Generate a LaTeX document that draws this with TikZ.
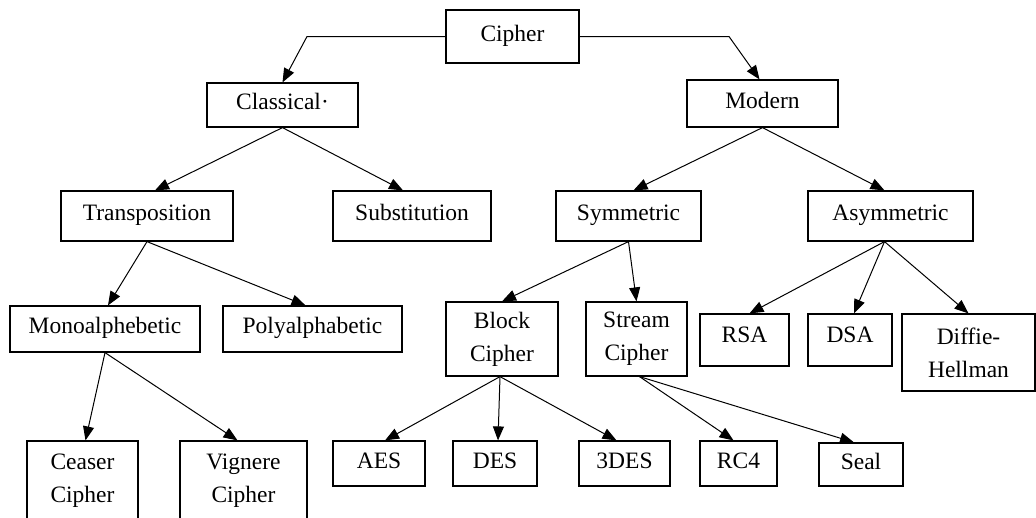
\documentclass[tikz,border=0pt]{standalone}
\usepackage{fontspec}
\setmainfont{Liberation Serif}
\usepackage{tikz}
\usetikzlibrary{arrows.meta,positioning}
\tikzset{
  cbox/.style={draw,rectangle,line width=1.2pt,inner sep=0pt,align=center,font=\fontsize{23.5}{33}\selectfont},
  oneline/.style={text height=15pt,text depth=6pt},
  sz/.style 2 args={minimum width=#1pt,minimum height=#2pt},
  link/.style={line width=1pt,-{Triangle[length=14pt,width=11pt]}}
}

\begin{document}
\begin{tikzpicture}[x=1pt,y=-1pt]
\useasboundingbox (0,0) rectangle (1036,517);
% top levels
\node[cbox,oneline,sz={133}{53}] (cipher) at (512.5,36.5) {Cipher};
\node[cbox,oneline,sz={151}{44}] (classical) at (282.5,105) {Classical·};
\node[cbox,oneline,sz={151}{47}] (modern) at (762.5,103.5) {Modern};
\node[cbox,oneline,sz={172}{50}] (transp) at (147,216) {Transposition};
\node[cbox,oneline,sz={158}{50}] (subst) at (412,216) {Substitution};
\node[cbox,oneline,sz={145}{50}] (sym) at (628.5,216) {Symmetric};
\node[cbox,oneline,sz={165}{50}] (asym) at (890.5,216) {Asymmetric};
% third level
\node[cbox,oneline,sz={190}{46}] (mono) at (105,329) {Monoalphebetic};
\node[cbox,oneline,sz={179}{46}] (poly) at (312.5,329) {Polyalphabetic};
\node[cbox,sz={112}{74}] (block) at (502,339) {Block\\Cipher};
\node[cbox,sz={101}{74}] (stream) at (636.5,339) {Stream\\Cipher};
\node[cbox,oneline,text depth=10pt,sz={89}{52}] (rsa) at (744.5,340) {RSA};
\node[cbox,oneline,text depth=10pt,sz={84}{52}] (dsa) at (850,340) {DSA};
\node[cbox,sz={133}{77}] (dh) at (968.5,352.5) {Diffie-\\Hellman};
% leaves
\node[cbox,sz={111}{79}] (ceaser) at (82.5,480.5) {Ceaser\\Cipher};
\node[cbox,sz={127}{79}] (vignere) at (243.5,480.5) {Vignere\\Cipher};
\node[cbox,oneline,sz={92}{45}] (aes) at (379,463.5) {AES};
\node[cbox,oneline,sz={84}{45}] (des) at (495,463.5) {DES};
\node[cbox,oneline,sz={91}{45}] (tdes) at (624.5,463.5) {3DES};
\node[cbox,oneline,sz={77}{45}] (rc) at (738.5,463.5) {RC4};
\node[cbox,oneline,sz={84}{43}] (seal) at (861,464.5) {Seal};

\coordinate (lbend) at (307,36.5);
\coordinate (rbend) at (729,36.5);
\draw[link] (cipher.west) -- (lbend) -- (classical.north);
\draw[link] (cipher.east) -- (rbend) -- ([xshift=-3pt]modern.north);

\draw[link] (classical.south) -- ([xshift=8pt]transp.north);
\draw[link] (classical.south) -- ([xshift=-9pt]subst.north);
\draw[link] (modern.south) -- ([xshift=5pt]sym.north);
\draw[link] (modern.south) -- ([xshift=-6pt]asym.north);

\draw[link] (transp.south) -- ([xshift=3pt]mono.north);
\draw[link] (transp.south) -- ([xshift=-7pt]poly.north);
\draw[link] ([xshift=-6pt]asym.south) -- ([xshift=5pt]rsa.north);
\draw[link] ([xshift=-6pt]asym.south) -- ([xshift=4pt]dsa.north);
\draw[link] ([xshift=-6pt]asym.south) -- (dh.north);
\draw[link] (sym.south) -- (block.north);
\draw[link] (sym.south) -- (stream.north);

\draw[link] (mono.south) -- ([xshift=3pt]ceaser.north);
\draw[link] (mono.south) -- ([xshift=-6pt]vignere.north);
\draw[link] ([xshift=-2pt]block.south) -- ([xshift=6pt]aes.north);
\draw[link] ([xshift=-2pt]block.south) -- ([xshift=3pt]des.north);
\draw[link] ([xshift=-2pt]block.south) -- ([xshift=-8pt]tdes.north);
\draw[link] ([xshift=3pt]stream.south) -- ([xshift=-5pt]rc.north);
\draw[link] ([xshift=3pt]stream.south) -- ([xshift=-7pt]seal.north);
\end{tikzpicture}
\end{document}
